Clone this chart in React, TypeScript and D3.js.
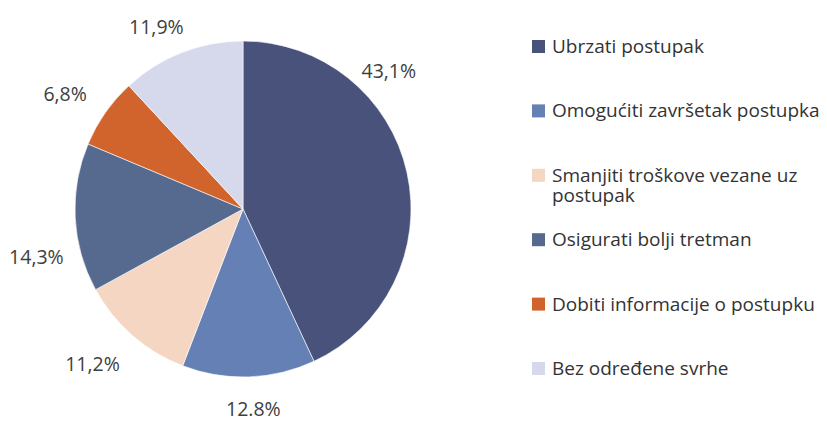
import React, { useEffect, useRef } from "react";
import * as d3 from "d3";

const categories = [
  "Ubrzati postupak",
  "Omogućiti završetak postupka",
  "Smanjiti troškove vezane uz\npostupak",
  "Osigurati bolji tretman",
  "Dobiti informacije o postupku",
  "Bez određene svrhe",
];
const values = [43.1, 12.8, 11.2, 14.3, 6.8, 11.9];
const valueLabels = ["43,1%", "12.8%", "11,2%", "14,3%", "6,8%", "11,9%"];
const colors = ["#48527b", "#6580b4", "#f4d6c2", "#56698f", "#d1642d", "#d6d9ec"];

// label placement tweaks to mimic Excel best-fit
const labelShift = [-31, -1, 3, -10, -2, -4]; // degrees
const labelPad = [1, 0, 16, 12, 12, 2]; // px

const W = 827;
const H = 421;

const PieChart = () => {
  const ref = useRef<SVGSVGElement | null>(null);

  useEffect(() => {
    document.body.style.margin = "0";
    const svg = d3.select(ref.current);
    svg.selectAll("*").remove();

    const cx = 243;
    const cy = 209;
    const r = 168;

    const pie = d3
      .pie<number>()
      .sort(null)
      .value((d) => d);
    const arcs = pie(values);
    const arc = d3.arc<d3.PieArcDatum<number>>().innerRadius(0).outerRadius(r);

    const g = svg.append("g").attr("transform", `translate(${cx},${cy})`);

    g.selectAll("path")
      .data(arcs)
      .enter()
      .append("path")
      .attr("d", arc)
      .attr("fill", (d, i) => colors[i])
      .attr("stroke", "#ffffff")
      .attr("stroke-width", 0.6);

    const labelR = 200;
    const ang = (d: d3.PieArcDatum<number>, i: number) =>
      (d.startAngle + d.endAngle) / 2 + (labelShift[i] * Math.PI) / 180;

    g.selectAll("text.val")
      .data(arcs)
      .enter()
      .append("text")
      .attr("class", "val")
      .attr("x", (d, i) => (labelR + labelPad[i]) * Math.sin(ang(d, i)))
      .attr("y", (d, i) => -(labelR + labelPad[i]) * Math.cos(ang(d, i)))
      .attr("text-anchor", "middle")
      .attr("dominant-baseline", "central")
      .attr("font-family", "Open Sans, sans-serif")
      .attr("font-size", 19.5)
      .attr("fill", "#404040")
      .text((d, i) => valueLabels[i]);

    // legend
    const yScale = d3
      .scalePoint<string>()
      .domain(categories)
      .range([53, 375]);

    const legend = svg
      .selectAll("g.leg")
      .data(categories)
      .enter()
      .append("g")
      .attr("class", "leg")
      .attr("transform", (d) => `translate(532,${yScale(d)})`);

    legend
      .append("rect")
      .attr("x", 0)
      .attr("y", -13)
      .attr("width", 13)
      .attr("height", 13)
      .attr("fill", (d, i) => colors[i]);

    legend
      .append("text")
      .attr("x", 20)
      .attr("y", 0)
      .attr("font-family", "Open Sans, sans-serif")
      .attr("font-size", 19)
      .attr("fill", "#333333")
      .selectAll("tspan")
      .data((d) => d.split("\n"))
      .enter()
      .append("tspan")
      .attr("x", 20)
      .attr("dy", (d, i) => (i === 0 ? 0 : 20))
      .text((d) => d);
  }, []);

  return <svg ref={ref} width={W} height={H} style={{ display: "block", background: "#fff" }} />;
};

export default function App() {
  return <PieChart />;
}
